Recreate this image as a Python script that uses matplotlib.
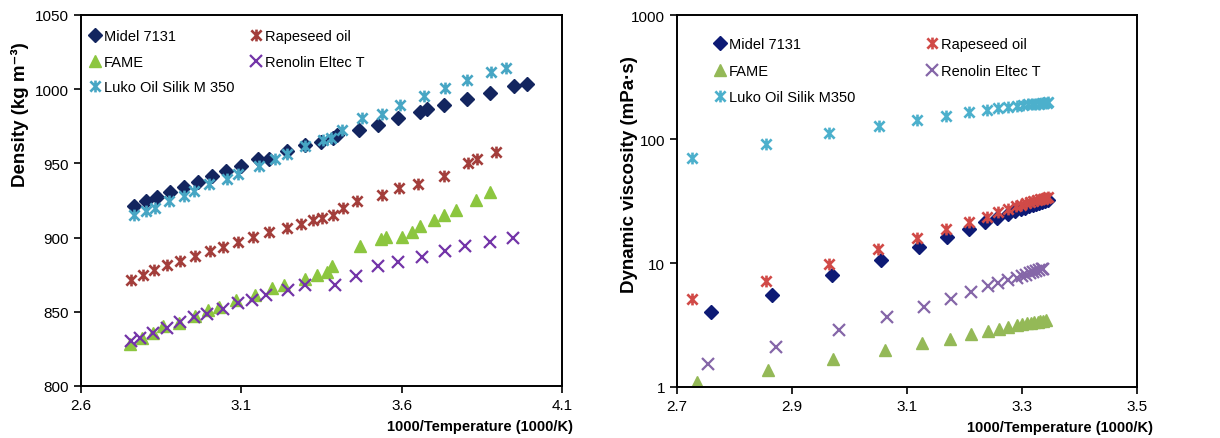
import numpy as np
import matplotlib
matplotlib.use('Agg')
import matplotlib.pyplot as plt
from matplotlib.path import Path
from matplotlib.ticker import FixedLocator, NullLocator, FuncFormatter

plt.rcParams['font.family'] = ['Liberation Sans', 'DejaVu Sans']

# ---- density (left) ----
midel_x_d = [2.765, 2.803, 2.838, 2.877, 2.922, 2.964, 3.008, 3.053, 3.099, 3.151, 3.187, 3.242, 3.299,
             3.347, 3.385, 3.397, 3.466, 3.525, 3.588, 3.657, 3.678, 3.732, 3.805, 3.875, 3.951, 3.992]
midel_y_d = [921.2, 924.5, 927.3, 930.8, 934.2, 937.8, 941.2, 944.8, 948.2, 952.7, 953.2, 958.3, 962.2,
             964.4, 967.3, 968.9, 972.5, 975.9, 980.6, 984.5, 986.5, 989.4, 993.2, 997.3, 1002.2, 1003.8]

rape_x_d = [2.755, 2.792, 2.829, 2.869, 2.909, 2.955, 3.002, 3.044, 3.089, 3.137, 3.186, 3.243, 3.285,
            3.324, 3.352, 3.387, 3.418, 3.460, 3.539, 3.591, 3.650, 3.731, 3.808, 3.836, 3.893]
rape_y_d = [871.6, 874.8, 878.2, 881.3, 884.0, 887.4, 891.2, 893.7, 897.1, 900.2, 903.6, 906.8, 909.5,
            911.7, 913.1, 915.5, 920.1, 924.5, 928.6, 933.1, 936.3, 941.2, 950.5, 952.7, 957.7]

fame_x_d = [2.753, 2.789, 2.825, 2.857, 2.907, 2.955, 2.997, 3.031, 3.083, 3.143, 3.195, 3.233, 3.299,
            3.337, 3.366, 3.383, 3.470, 3.534, 3.551, 3.602, 3.633, 3.657, 3.701, 3.732, 3.768, 3.831, 3.875]
fame_y_d = [828.5, 832.5, 835.8, 840.1, 842.5, 847.0, 851.4, 853.2, 858.1, 861.5, 866.0, 868.2, 872.3,
            875.0, 876.6, 880.6, 894.1, 899.1, 900.2, 900.5, 903.8, 908.1, 911.7, 914.9, 918.9, 925.2, 930.6]

reno_x_d = [2.755, 2.784, 2.825, 2.867, 2.909, 2.953, 2.992, 3.044, 3.090, 3.134, 3.177, 3.245, 3.299,
            3.392, 3.457, 3.525, 3.589, 3.662, 3.735, 3.797, 3.875, 3.948]
reno_y_d = [830.0, 832.2, 836.0, 839.4, 843.0, 846.2, 848.6, 851.8, 855.9, 858.1, 861.0, 864.9, 868.2,
            868.2, 874.3, 880.6, 883.6, 886.9, 890.8, 894.1, 897.1, 899.8]

luko_x_d = [2.765, 2.803, 2.831, 2.874, 2.922, 2.951, 3.000, 3.055, 3.091, 3.154, 3.206, 3.242, 3.299,
            3.356, 3.379, 3.414, 3.477, 3.540, 3.596, 3.669, 3.736, 3.804, 3.880, 3.926]
luko_y_d = [915.5, 918.2, 920.1, 924.5, 927.9, 931.3, 935.8, 939.6, 942.6, 948.2, 952.7, 956.1, 961.7,
            965.8, 967.3, 972.3, 980.9, 983.1, 989.2, 995.1, 1000.5, 1006.1, 1011.9, 1014.6]

# ---- viscosity (right) ----
midel_x_v = [2.759, 2.866, 2.970, 3.055, 3.121, 3.170, 3.207, 3.236, 3.257, 3.276, 3.288, 3.298, 3.306,
             3.313, 3.319, 3.325, 3.330, 3.335, 3.340, 3.346]
midel_y_v = [4.0, 5.54, 7.94, 10.6, 13.4, 16.2, 18.8, 21.3, 23.1, 24.9, 26.2, 27.1, 27.9,
             28.6, 29.3, 29.9, 30.5, 31.0, 31.6, 32.1]

rape_x_v = [2.726, 2.855, 2.964, 3.049, 3.118, 3.168, 3.207, 3.239, 3.259, 3.276, 3.289, 3.299, 3.307,
            3.314, 3.320, 3.326, 3.331, 3.336, 3.341, 3.346]
rape_y_v = [5.11, 7.12, 9.81, 12.9, 15.8, 18.8, 21.3, 23.7, 25.8, 27.4, 28.6, 29.5, 30.3,
            31.0, 31.6, 32.1, 32.6, 33.0, 33.4, 33.8]

fame_x_v = [2.734, 2.859, 2.972, 3.061, 3.126, 3.175, 3.211, 3.240, 3.260, 3.276, 3.291, 3.300, 3.308,
            3.315, 3.321, 3.327, 3.332, 3.337, 3.341]
fame_y_v = [1.10, 1.37, 1.67, 1.98, 2.26, 2.44, 2.69, 2.83, 2.96, 3.06, 3.16, 3.21, 3.26,
            3.30, 3.34, 3.37, 3.40, 3.42, 3.45]

reno_x_v = [2.754, 2.873, 2.982, 3.065, 3.130, 3.176, 3.211, 3.240, 3.259, 3.276, 3.291, 3.300, 3.307,
            3.314, 3.320, 3.325, 3.330, 3.334, 3.337]
reno_y_v = [1.54, 2.11, 2.87, 3.64, 4.41, 5.17, 5.87, 6.51, 6.95, 7.26, 7.59, 7.85, 8.05,
            8.25, 8.45, 8.6, 8.75, 8.9, 9.0]

luko_x_v = [2.726, 2.855, 2.965, 3.051, 3.118, 3.168, 3.207, 3.239, 3.259, 3.276, 3.291, 3.302, 3.310,
            3.317, 3.323, 3.329, 3.334, 3.339, 3.343, 3.346]
luko_y_v = [70.7, 91.0, 111, 128, 142, 154, 165, 172, 178, 182, 185, 189, 190,
            191, 192, 193, 194, 195, 196, 197]

# excel style "star" marker: x with a vertical bar
star = Path([(-1, -1), (1, 1), (-1, 1), (1, -1), (0, -1.15), (0, 1.15)],
            [Path.MOVETO, Path.LINETO, Path.MOVETO, Path.LINETO, Path.MOVETO, Path.LINETO])

fig = plt.figure(figsize=(12.2, 4.39), dpi=100)
ax1 = fig.add_axes([81/1220, 52/439, 481/1220, 371/439])
ax2 = fig.add_axes([677/1220, 51/439, 460/1220, 372/439])


def draw(ax, data, colors):
    h = {}
    (mx, my), (rx, ry), (fx, fy), (nx, ny), (lx, ly) = data
    h['m'], = ax.plot(mx, my, 'D', color=colors[0], ms=6.8, mec=colors[0], ls='none', label='Midel 7131')
    h['r'], = ax.plot(rx, ry, marker=star, color=colors[1], ms=8.5, mfc='none', mew=1.9, ls='none',
                      label='Rapeseed oil')
    h['f'], = ax.plot(fx, fy, '^', color=colors[2], ms=8.5, ls='none', label='FAME')
    h['n'], = ax.plot(nx, ny, 'x', color=colors[3], ms=8.5, mew=1.6, ls='none', label='Renolin Eltec T')
    h['l'], = ax.plot(lx, ly, marker=star, color=colors[4], ms=8.5, mfc='none', mew=1.9, ls='none')
    return h


h1 = draw(ax1, [(midel_x_d, midel_y_d), (rape_x_d, rape_y_d), (fame_x_d, fame_y_d),
                (reno_x_d, reno_y_d), (luko_x_d, luko_y_d)],
          ['#13255f', '#a33e3b', '#8cc63f', '#7334a8', '#47a6c4'])
h2 = draw(ax2, [(midel_x_v, midel_y_v), (rape_x_v, rape_y_v), (fame_x_v, fame_y_v),
                (reno_x_v, reno_y_v), (luko_x_v, luko_y_v)],
          ['#0d1a75', '#d14a47', '#94b957', '#8566a8', '#4cb0cc'])

h1['l'].set_label('Luko Oil Silik M 350')
h2['l'].set_label('Luko Oil Silik M350')

ax1.set_xlim(2.6, 4.1)
ax1.set_ylim(800, 1050)
ax1.set_xticks([2.6, 3.1, 3.6, 4.1])
ax1.set_xticklabels(['2.6', '3.1', '3.6', '4.1'])
ax1.set_yticks([800, 850, 900, 950, 1000, 1050])

ax2.set_yscale('log')
ax2.set_xlim(2.7, 3.5)
ax2.set_ylim(1, 1000)
ax2.set_xticks([2.7, 2.9, 3.1, 3.3, 3.5])
ax2.set_xticklabels(['2.7', '2.9', '3.1', '3.3', '3.5'])
ax2.yaxis.set_major_locator(FixedLocator([1, 10, 100, 1000]))
ax2.yaxis.set_minor_locator(NullLocator())
ax2.yaxis.set_major_formatter(FuncFormatter(lambda v, p: '%d' % v))

for ax in (ax1, ax2):
    for s in ax.spines.values():
        s.set_linewidth(1.4)
        s.set_color('black')
    ax.tick_params(direction='out', length=5, width=1.2, labelsize=11, colors='black')

ax1.set_ylabel('Density (kg m⁻³)', fontsize=13.5, fontweight='bold')
ax1.yaxis.set_label_coords(-0.108, 0.733)
ax1.set_xlabel('1000/Temperature (1000/K)', fontsize=10.5, fontweight='bold', ha='right')
ax1.xaxis.set_label_coords(1.023, -0.09)

ax2.set_ylabel('Dynamic viscosity (mPa·s)', fontsize=13.5, fontweight='bold')
ax2.yaxis.set_label_coords(-0.085, 0.574)
ax2.set_xlabel('1000/Temperature (1000/K)', fontsize=10.5, fontweight='bold', ha='right')
ax2.xaxis.set_label_coords(1.035, -0.088)

ax1.legend(handles=[h1['m'], h1['f'], h1['l'], h1['r'], h1['n']], ncol=2, loc='upper left',
           bbox_to_anchor=(0.02, 0.962), frameon=False, fontsize=10.5, handlelength=0.6,
           handletextpad=0.3, columnspacing=1.2, labelspacing=0.8, borderpad=0, borderaxespad=0)
ax2.legend(handles=[h2['m'], h2['f'], h2['l'], h2['r'], h2['n']], ncol=2, loc='upper left',
           bbox_to_anchor=(0.084, 0.94), frameon=False, fontsize=10.5, handlelength=0.6,
           handletextpad=0.3, columnspacing=5.0, labelspacing=0.85, borderpad=0, borderaxespad=0)

plt.savefig('out.png', dpi=100)
